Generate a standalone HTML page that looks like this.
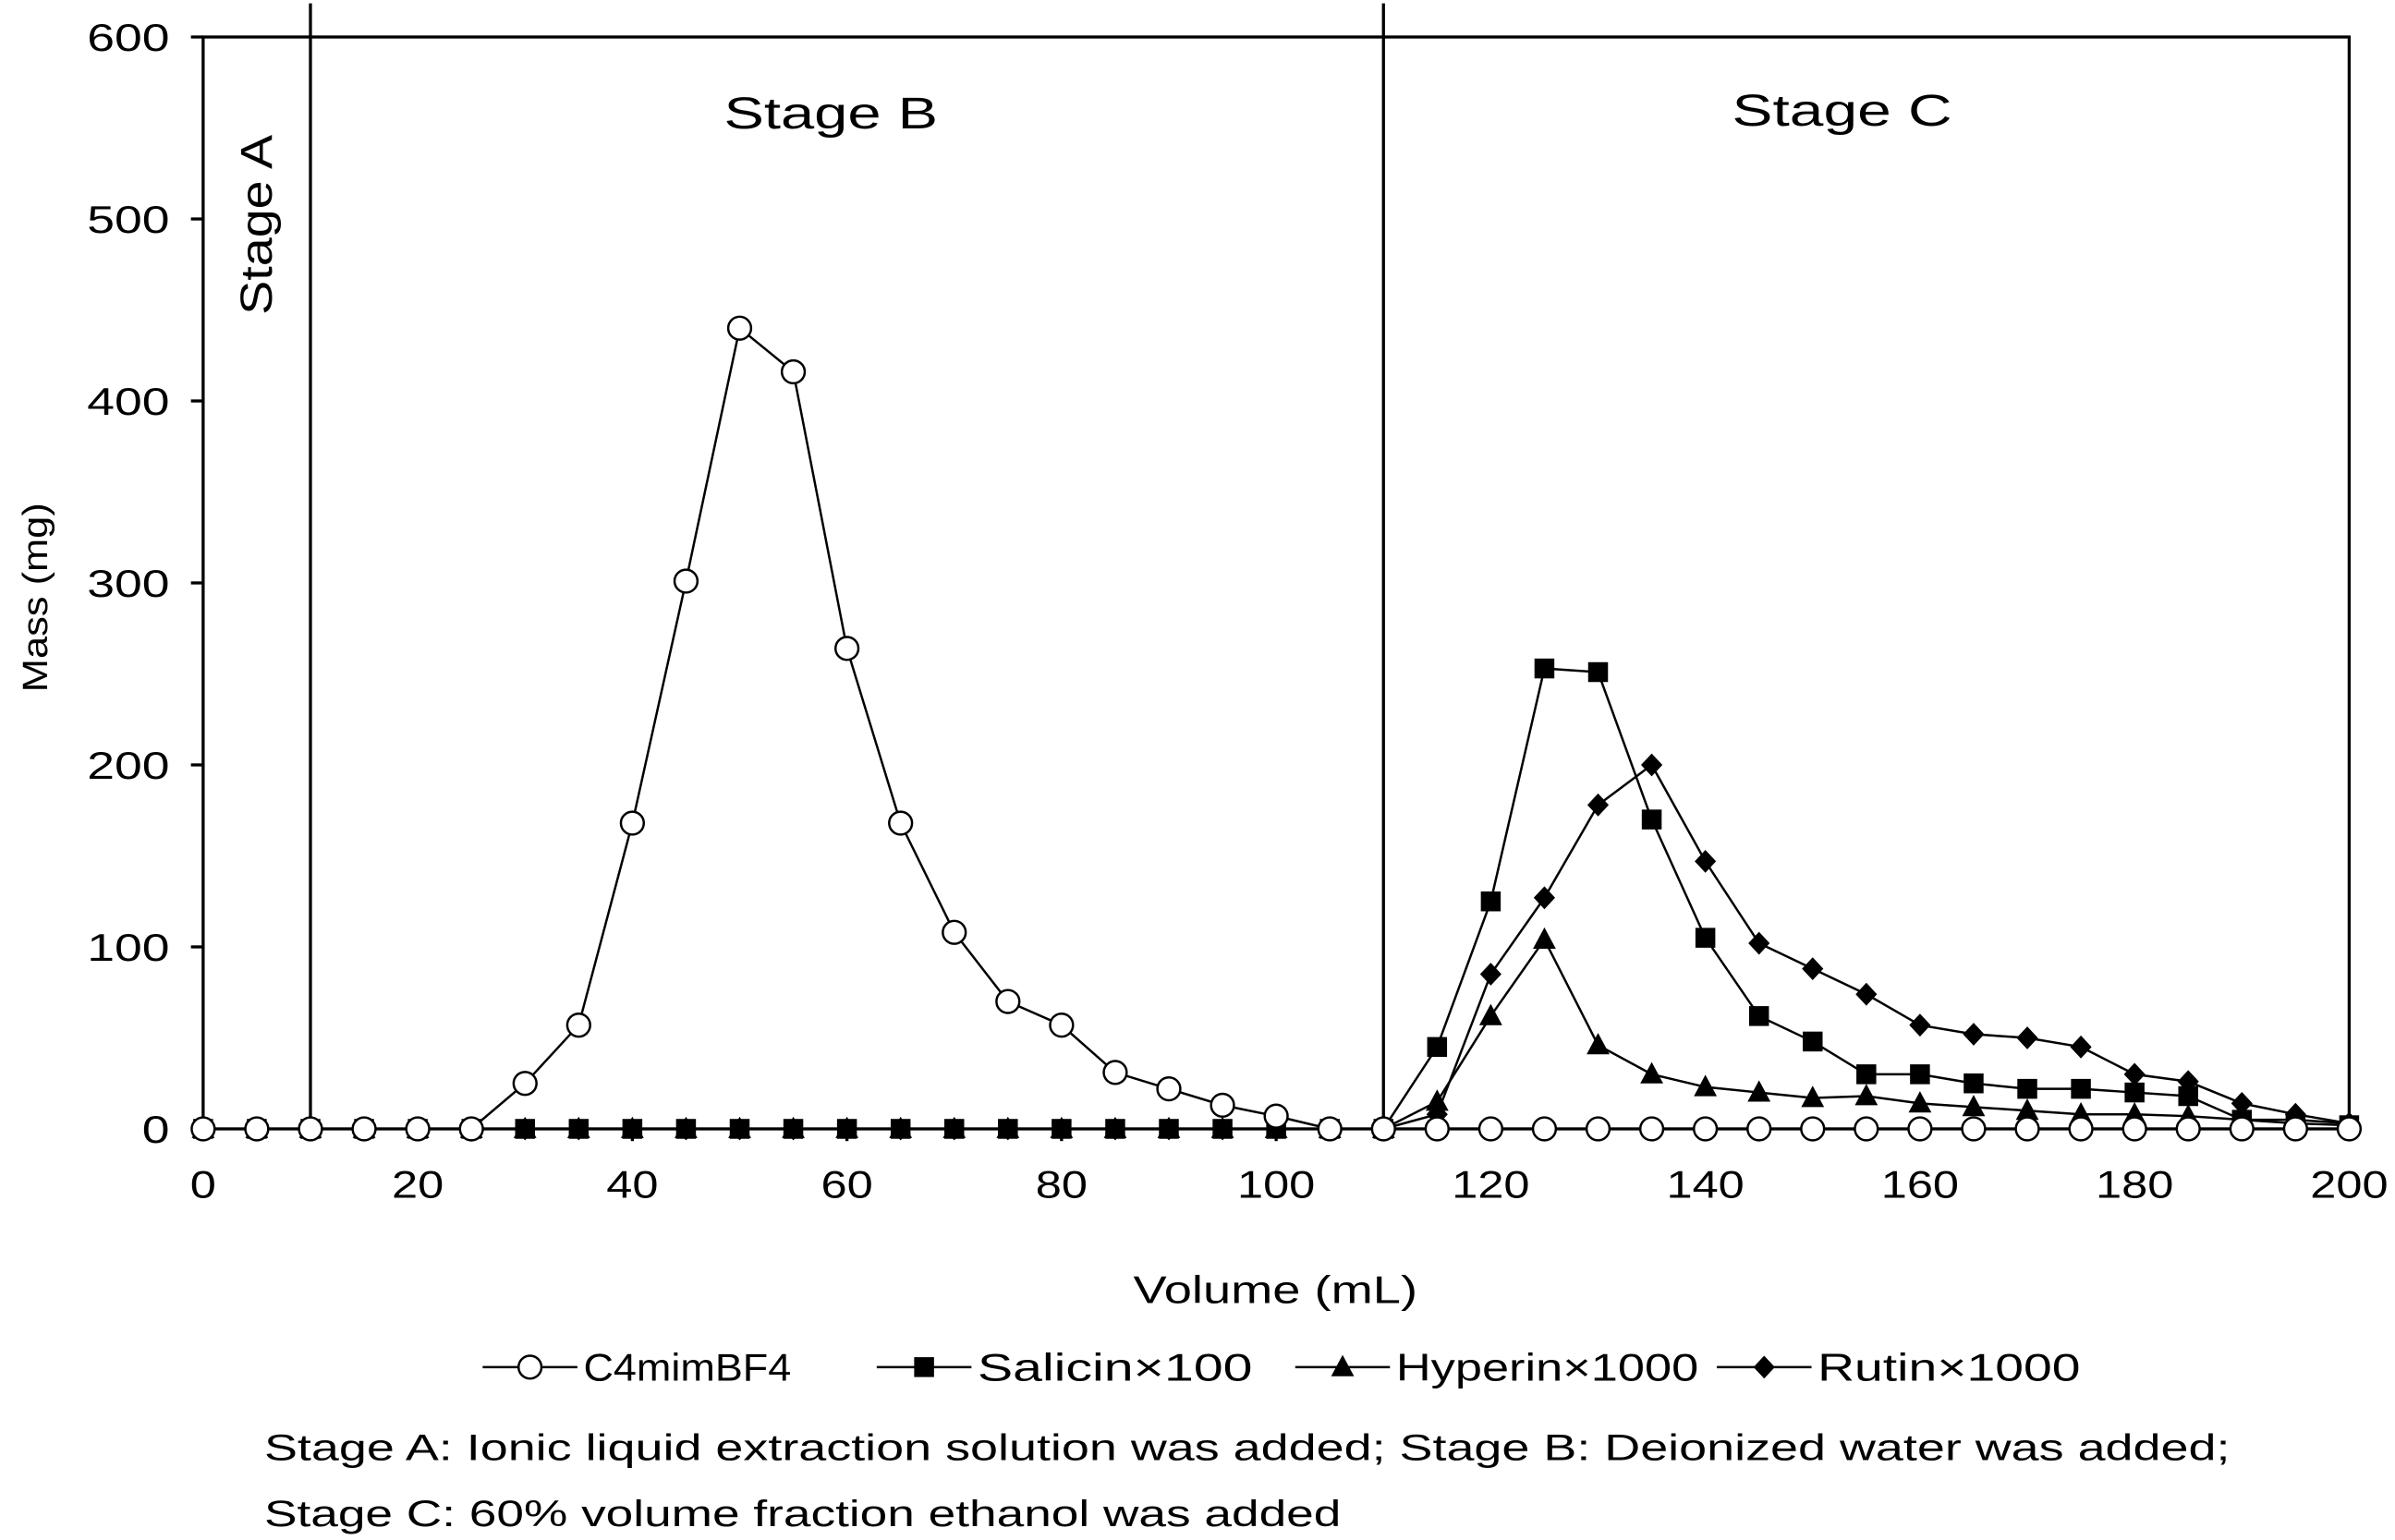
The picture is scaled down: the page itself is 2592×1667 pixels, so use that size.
<!DOCTYPE html>
<html><head><meta charset="utf-8"><style>
html,body{margin:0;padding:0;background:#fff;}
svg{display:block;}
text{font-family:"Liberation Sans",Arial,sans-serif;fill:#000;}
</style></head><body>
<svg id="chart" width="2592" height="1667" viewBox="0 0 1568 1008" xmlns="http://www.w3.org/2000/svg">
<g id="plot"></g>
</svg>
<script>
const xValues=[0,5,10,15,20,25,30,35,40,45,50,55,60,65,70,75,80,85,90,95,100,105,110,115,120,125,130,135,140,145,150,155,160,165,170,175,180,185,190,195,200];
const c4mim=[0,0,0,0,0,0,25,57,168,301,440,416,264,168,108,70,57,31,22,13,7,0,0,0,0,0,0,0,0,0,0,0,0,0,0,0,0,0,0,0,0];
const salicin=[0,0,0,0,0,0,0,0,0,0,0,0,0,0,0,0,0,0,0,0,0,0,0,45,125,253,251,170,105,62,48,30,30,25,22,22,20,18,5,3,2];
const hyperin=[0,0,0,0,0,0,0,0,0,0,0,0,0,0,0,0,0,0,0,0,0,0,0,15,62,104,46,30,23,20,17,18,14,12,10,8,8,7,5,5,3];
const rutin=[0,0,0,0,0,0,0,0,0,0,0,0,0,0,0,0,0,0,0,0,0,0,0,8,85,127,178,200,147,102,88,74,57,52,50,45,30,26,14,8,3];
const xTicks=[0,20,40,60,80,100,120,140,160,180,200];
const yTicks=[0,100,200,300,400,500,600];
const stageBounds=[10,110];

const NS="http://www.w3.org/2000/svg";
const L=133,R=1538,T=24,B=739;
const sx=v=>L+(v/200)*(R-L);
const sy=v=>B-(v/600)*(B-T);
const g=document.getElementById('plot');
function el(tag,attrs,parent){const e=document.createElementNS(NS,tag);for(const k in attrs)e.setAttribute(k,attrs[k]);(parent||g).appendChild(e);return e;}
function txt(x,y,s,size,anchor,parent,len){const a={x:x,y:y,'font-size':size,'text-anchor':anchor||'start'};if(len){a.textLength=len;a.lengthAdjust='spacingAndGlyphs';}const t=el('text',a,parent);t.textContent=s;return t;}

const fr=el('rect',{x:L,y:T,width:R-L,height:B-T,fill:'none',stroke:'#000','stroke-width':2});


stageBounds.forEach(b=>{
  const ln=el('line',{x1:sx(b),x2:sx(b),y1:2,y2:B,stroke:'#000','stroke-width':2});
  
  
});
xTicks.forEach(v=>{
  el('line',{x1:sx(v),x2:sx(v),y1:B,y2:B+8,stroke:'#000','stroke-width':2});
  const s=String(v);
  const t=txt(sx(v),B+45,s,25,'middle',null,s.length*17);
  
  
});
yTicks.forEach(v=>{
  el('line',{x1:L-8,x2:L,y1:sy(v),y2:sy(v),stroke:'#000','stroke-width':2});
  const s=String(v);
  const t=txt(L-22,sy(v)+9,s,25,'end',null,s.length*18);
  
  
});
const xt=txt(835,853,'Volume (mL)',25,'middle',null,186);


const yt=txt(0,0,'Mass (mg)',23,'middle',null,124);
yt.setAttribute('transform','translate(31,391) rotate(-90)');


const sa=txt(0,0,'Stage A',29,'middle',null,118);
sa.setAttribute('transform','translate(178,147) rotate(-90)');


const sb=txt(544,84,'Stage B',29,'middle',null,140);


const sc=txt(1206,82,'Stage C',29,'middle',null,144);



function marker(kind,x,y,parent){
  if(kind==='circle')return el('circle',{cx:x,cy:y,r:7.5,fill:'#fff',stroke:'#000','stroke-width':1.5},parent);
  if(kind==='square')return el('rect',{x:x-6.5,y:y-6.5,width:13,height:13,fill:'#000'},parent);
  if(kind==='triangle')return el('polygon',{points:`${x},${y-8} ${x+7.5},${y+6} ${x-7.5},${y+6}`,fill:'#000'},parent);
  return el('polygon',{points:`${x},${y-7.5} ${x+7},${y} ${x},${y+7.5} ${x-7},${y}`,fill:'#000'},parent);
}
const series=[[rutin,'diamond','series-rutin'],[hyperin,'triangle','series-hyperin'],[salicin,'square','series-salicin'],[c4mim,'circle','series-c4mimbf4']];
series.forEach(([vals,kind,name])=>{
  const sg=el('g',{});
  
  
  const pts=vals.map((v,i)=>sx(xValues[i])+','+sy(v)).join(' ');
  el('polyline',{points:pts,fill:'none',stroke:'#000','stroke-width':1.5},sg);
  vals.forEach((v,i)=>{
    const m=marker(kind,sx(xValues[i]),sy(v),sg);
    
    
  });
});

const legend=[['circle','C4mimBF4',316,136],['square','Salicin×100',574,180],['triangle','Hyperin×1000',848,198],['diamond','Rutin×1000',1124,172]];
legend.forEach(([kind,label,x0,len])=>{
  const lg=el('g',{});
  
  
  el('line',{x1:x0,x2:x0+62,y1:895,y2:895,stroke:'#000','stroke-width':1.5},lg);
  marker(kind,x0+31,895,lg);
  txt(x0+66,904,label,25,'start',lg,len);
});
const n1=txt(173,956,'Stage A: Ionic liquid extraction solution was added; Stage B: Deionized water was added;',24,'start',null,1287);


const n2=txt(173,999,'Stage C: 60% volume fraction ethanol was added',24,'start',null,705);


</script>
</body></html>
